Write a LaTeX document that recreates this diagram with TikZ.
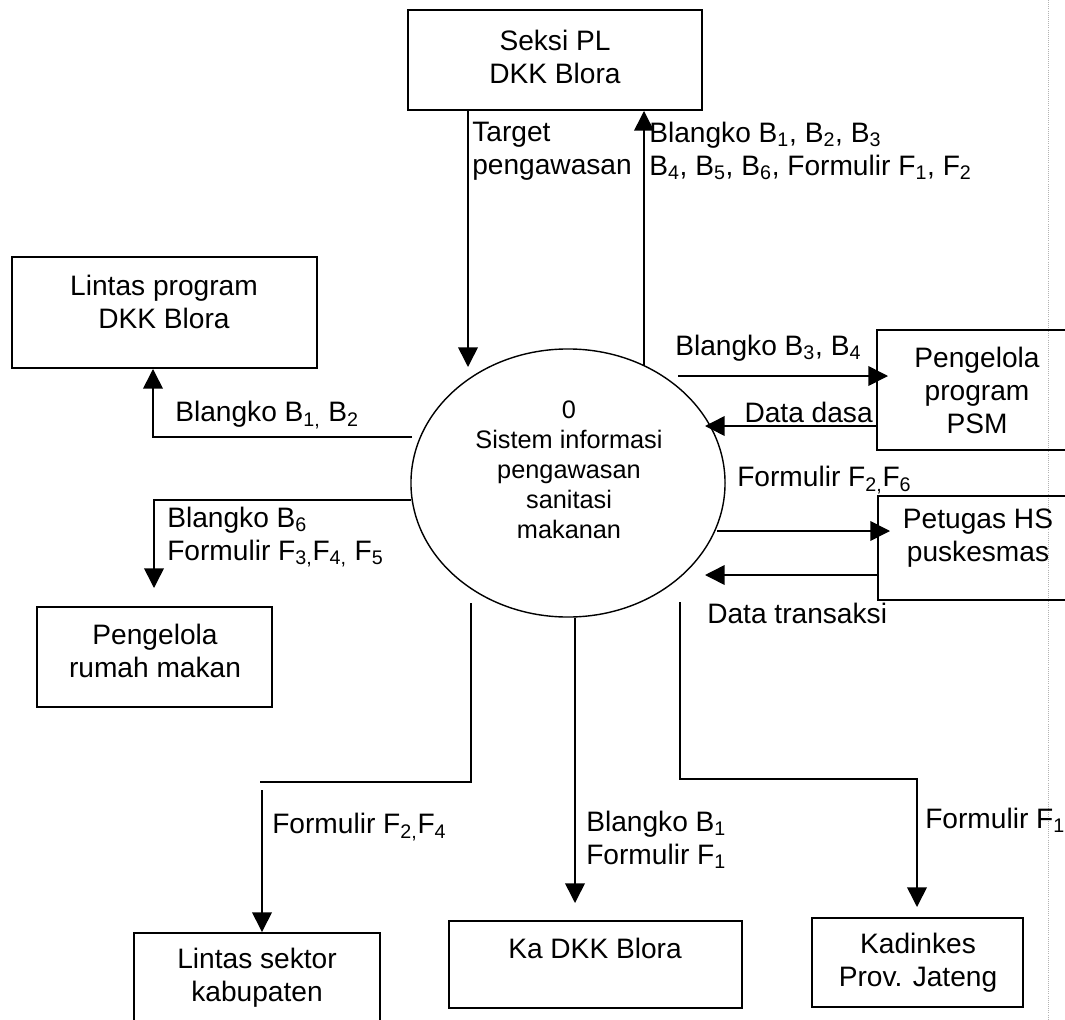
\documentclass[tikz,border=0pt]{standalone}
\usepackage{fontspec}
\setmainfont{Liberation Sans}
\usetikzlibrary{arrows.meta,fit,shapes.geometric}
\newcommand{\sbs}[1]{\textsubscript{#1}}
\begin{document}
\begin{tikzpicture}[x=0.025cm,y=-0.025cm,
  box/.style={draw,line width=1.4pt,inner sep=0pt},
  txt/.style={align=center,inner sep=0pt,font=\fontsize{20}{23.5}\selectfont},
  lbl/.style={align=left,inner sep=0pt,font=\fontsize{20}{23.5}\selectfont},
  flow/.style={line width=1.1pt},
  arr/.style={flow,-{Triangle[length=14pt,width=14pt]}}]
\useasboundingbox (0,0) rectangle (1065,1019);
\fill[white] (0,0) rectangle (1065,1019);
\clip (0,0) rectangle (1065,1019);

% scan margin line
\draw[gray!60,densely dotted,line width=0.5pt] (1048,0) -- (1048,1019);

% boxes
\node[box,fit={(408,10) (702,110)}] (seksi) {};
\node[box,fit={(12,257) (317,368)}] (lp) {};
\node[box,fit={(37,607) (272,707)}] (rm) {};
\node[box,fit={(134,933) (380,1040)}] (ls) {};
\node[box,fit={(449,921) (742,1008)}] (kd) {};
\node[box,fit={(812,918) (1023,1007)}] (kj) {};
\node[box,fit={(877,330) (1090,450)}] (psm) {};
\node[box,fit={(878,496) (1090,600)}] (hs) {};
\node[draw,ellipse,line width=1pt,inner sep=0pt,minimum width=7.85cm,minimum height=6.7cm] (proc) at (568,483) {};

% box texts
\node[txt] (seksiT) at (555,57) {Seksi PL\\DKK Blora};
\node[txt] (lpT) at (164,302) {Lintas program\\DKK Blora};
\node[txt] (rmT) at (155,651) {Pengelola\\rumah makan};
\node[txt] (lsT) at (257,978) {Lintas sektor\\kabupaten};
\node[txt] (kdT) at (595,948) {Ka DKK Blora};
\node[txt] (kjT) at (918,963) {Kadinkes\\Prov. Jateng};
\node[txt] (psmT) at (977,390) {Pengelola\\program\\PSM};
\node[txt] (hsT) at (978,538) {Petugas HS\\puskesmas};
\node[align=center,inner sep=0pt,font=\fontsize{18}{21.3}\selectfont] (procT) at (569,470)
  {0\\Sistem informasi\\pengawasan\\sanitasi\\makanan};

% connector coordinates
\coordinate (tB) at (468,367);
\coordinate (bU) at (644,366);
\coordinate (l1) at (412,437);
\coordinate (l1c) at (153,437);
\coordinate (l2) at (411,500);
\coordinate (l2c) at (154,500);
\coordinate (l2e) at (154,588);
\coordinate (b1) at (471,603);
\coordinate (b1c) at (471,782);
\coordinate (b1d) at (260,782);
\coordinate (b1s) at (262,790);
\coordinate (b2) at (575,618);
\coordinate (b2e) at (575,903);
\coordinate (b3) at (680,602);
\coordinate (b3c) at (680,779);
\coordinate (b3d) at (917,779);
\coordinate (b3e) at (917,907);
\coordinate (r1) at (678,376);
\coordinate (r1e) at (888,376);
\coordinate (r2) at (705,426);
\coordinate (r3) at (717,531);
\coordinate (r3e) at (890,531);
\coordinate (r4) at (705,575);

% connectors
\draw[arr] (seksi.south -| tB) -- (tB);
\draw[arr] (bU) -- (bU |- seksi.south);
\draw[arr] (l1) -- (l1c) -- (l1c |- lp.south);
\draw[arr] (l2) -- (l2c) -- (l2e);
\draw[flow] (b1) -- (b1c) -- (b1d);
\draw[arr] (b1s) -- (b1s |- ls.north);
\draw[arr] (b2) -- (b2e);
\draw[arr] (b3) -- (b3c) -- (b3d) -- (b3e);
\draw[arr] (r1) -- (r1e);
\draw[arr] (psm.west |- r2) -- (r2);
\draw[arr] (r3) -- (r3e);
\draw[arr] (hs.west |- r4) -- (r4);

% labels
\node[lbl,anchor=west] (lab1) at (472,151) {Target\\pengawasan};
\node[lbl,anchor=west] (lab2) at (649,151) {Blangko B\sbs{1}, B\sbs{2}, B\sbs{3}\\B\sbs{4}, B\sbs{5}, B\sbs{6}, Formulir F\sbs{1}, F\sbs{2}};
\node[lbl,anchor=west] (lab3) at (175,415) {Blangko B\sbs{1,} B\sbs{2}};
\node[lbl,anchor=west] (lab4) at (167,537) {Blangko B\sbs{6}\\Formulir F\sbs{3,}F\sbs{4,} F\sbs{5}};
\node[lbl,anchor=west] (lab5) at (675,348) {Blangko B\sbs{3}, B\sbs{4}};
\node[lbl,anchor=east] (lab6) at (873,412) {Data dasa};
\node[lbl,anchor=west] (lab7) at (737,480) {Formulir F\sbs{2,}F\sbs{6}};
\node[lbl,anchor=west] (lab8) at (707,613) {Data transaksi};
\node[lbl,anchor=west] (lab9) at (272,827) {Formulir F\sbs{2,}F\sbs{4}};
\node[lbl,anchor=west] (lab10) at (586,840) {Blangko B\sbs{1}\\Formulir F\sbs{1}};
\node[lbl,anchor=west] (lab11) at (925,820) {Formulir F\sbs{1}};
\end{tikzpicture}
\end{document}
